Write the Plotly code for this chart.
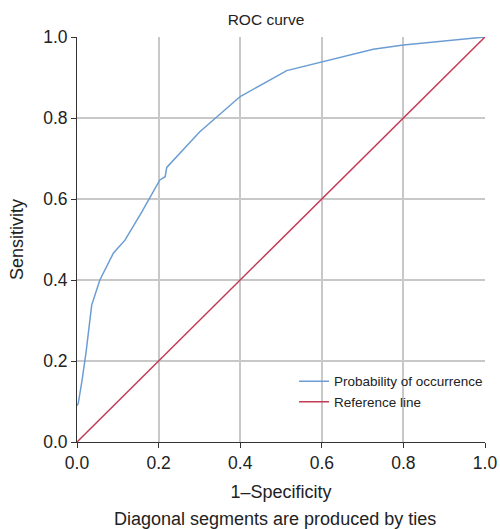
import plotly.graph_objects as go

fpr = [0.0, 0.003, 0.012, 0.02, 0.022, 0.036, 0.056, 0.089, 0.118, 0.16, 0.203, 0.216, 0.22, 0.301, 0.4, 0.514, 0.604, 0.726, 0.8, 1.0]
tpr = [0.09, 0.095, 0.15, 0.198, 0.22, 0.338, 0.40, 0.466, 0.499, 0.57, 0.647, 0.655, 0.678, 0.766, 0.853, 0.917, 0.94, 0.97, 0.98, 1.0]
ref_x = [0.0, 1.0]
ref_y = [0.0, 1.0]
ticks = [0.0, 0.2, 0.4, 0.6, 0.8, 1.0]
tick_labels = ["0.0", "0.2", "0.4", "0.6", "0.8", "1.0"]

W, H = 500, 529
L, R, T, B = 77, 15, 37, 87
ph = H - T - B

fig = go.Figure()
fig.add_trace(go.Scatter(x=fpr, y=tpr, mode="lines", name="Probability of occurrence",
                         line=dict(color="#6B9DD3", width=1.5)))
fig.add_trace(go.Scatter(x=ref_x, y=ref_y, mode="lines", name="Reference line",
                         line=dict(color="#C33A55", width=1.5)))

fig.update_layout(
    width=W, height=H,
    paper_bgcolor="white", plot_bgcolor="white",
    margin=dict(l=L, r=R, t=T, b=B, autoexpand=False),
    font=dict(family="Liberation Sans, Arial, sans-serif", size=17.5, color="#222"),
    title=dict(text="ROC curve", x=266 / W, xanchor="center",
               y=1 - 20 / H, yanchor="middle", font=dict(size=15.5, color="#222")),
    showlegend=True,
    legend=dict(x=0.532, y=0.188, xanchor="left", yanchor="top", bgcolor="rgba(255,255,255,0)",
                font=dict(size=13.5, color="#222"), tracegroupgap=0, itemwidth=30),
    xaxis=dict(range=[0, 1], tickvals=ticks, ticktext=tick_labels, showgrid=True, automargin=False,
               gridcolor="#C8C8C8", gridwidth=1.5, showline=True, linecolor="#333", linewidth=1,
               ticks="outside", ticklen=5, tickcolor="#333", zeroline=False, tickfont=dict(size=17.5),
               title=dict(text="1–Specificity", standoff=13, font=dict(size=18))),
    yaxis=dict(range=[0, 1], tickvals=ticks, ticktext=tick_labels, showgrid=True, automargin=False,
               gridcolor="#C8C8C8", gridwidth=1.5, showline=True, linecolor="#333", linewidth=1,
               ticks="outside", ticklen=5, tickcolor="#333", zeroline=False, tickfont=dict(size=17.5),
               title=dict(text="Sensitivity", standoff=14, font=dict(size=18))),
)
fig.add_annotation(text="Diagonal segments are produced by ties", xref="paper", yref="paper",
                   x=(113 + 437) / 2 / W * (W / (W - L - R)) - L / (W - L - R),
                   y=-(519 - (T + ph)) / ph, xanchor="center", yanchor="middle",
                   showarrow=False, font=dict(size=18, color="#222"))

fig.write_html("out.html", config={"displayModeBar": False},
               post_script="document.body.style.margin='0';document.body.style.overflow='hidden';")
